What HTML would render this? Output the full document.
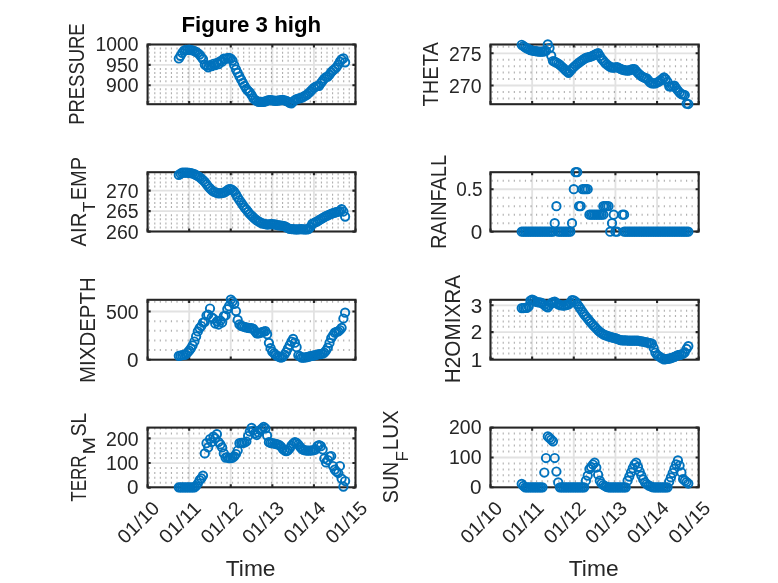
<!DOCTYPE html>
<html><head><meta charset="utf-8"><title>Figure 3 high</title>
<style>
html,body{margin:0;padding:0;background:#fff;}
svg{display:block;}
text{font-family:"Liberation Sans","DejaVu Sans",sans-serif;fill:#262626;}
.tk{font-size:19.4px;}
.lb{font-size:21.4px;}
.sb{font-size:17px;}
.tt{font-size:21.4px;font-weight:bold;fill:#000;}
</style></head><body>
<svg width="778" height="583" viewBox="0 0 778 583">
<rect width="778" height="583" fill="#fff"/>
<path d="M189.18 44.50V104.20M230.76 44.50V104.20M272.34 44.50V104.20M313.92 44.50V104.20M147.60 64.85H355.50M147.60 85.20H355.50" stroke="#262626" stroke-opacity="0.135" stroke-width="1.85" fill="none"/>
<path d="M148.65 101.48H355.50M148.65 97.41H355.50M148.65 93.34H355.50M148.65 89.27H355.50M148.65 81.13H355.50M148.65 77.06H355.50M148.65 72.99H355.50M148.65 68.92H355.50M148.65 60.78H355.50M148.65 56.71H355.50M148.65 52.64H355.50M148.65 48.57H355.50" stroke="#262626" stroke-opacity="0.36" stroke-width="2.0" stroke-dasharray="1.15 4.406" fill="none"/>
<rect x="147.60" y="44.50" width="207.90" height="59.70" fill="none" stroke="#262626" stroke-width="2.08"/>
<path d="M147.60 104.20v-3.1M147.60 44.50v3.1M189.18 104.20v-3.1M189.18 44.50v3.1M230.76 104.20v-3.1M230.76 44.50v3.1M272.34 104.20v-3.1M272.34 44.50v3.1M313.92 104.20v-3.1M313.92 44.50v3.1M355.50 104.20v-3.1M355.50 44.50v3.1M147.60 44.50h3.1M355.50 44.50h-3.1M147.60 64.85h3.1M355.50 64.85h-3.1M147.60 85.20h3.1M355.50 85.20h-3.1" stroke="#262626" stroke-width="2.08" fill="none"/>
<g fill="none" stroke="#0072bd" stroke-width="1.95"><circle cx="178.8" cy="58.5" r="4.15"/><circle cx="180.5" cy="55.8" r="4.15"/><circle cx="182.2" cy="52.9" r="4.15"/><circle cx="184.0" cy="50.6" r="4.15"/><circle cx="185.7" cy="49.9" r="4.15"/><circle cx="187.4" cy="49.8" r="4.15"/><circle cx="189.2" cy="49.7" r="4.15"/><circle cx="190.9" cy="50.0" r="4.15"/><circle cx="192.6" cy="50.3" r="4.15"/><circle cx="194.4" cy="51.0" r="4.15"/><circle cx="196.1" cy="51.9" r="4.15"/><circle cx="197.8" cy="53.0" r="4.15"/><circle cx="199.6" cy="54.6" r="4.15"/><circle cx="201.3" cy="57.0" r="4.15"/><circle cx="203.0" cy="59.2" r="4.15"/><circle cx="204.8" cy="64.6" r="4.15"/><circle cx="206.5" cy="65.6" r="4.15"/><circle cx="208.2" cy="67.3" r="4.15"/><circle cx="210.0" cy="65.0" r="4.15"/><circle cx="211.7" cy="66.2" r="4.15"/><circle cx="213.4" cy="63.8" r="4.15"/><circle cx="215.2" cy="65.1" r="4.15"/><circle cx="216.9" cy="62.9" r="4.15"/><circle cx="218.6" cy="64.2" r="4.15"/><circle cx="220.4" cy="61.2" r="4.15"/><circle cx="222.1" cy="61.7" r="4.15"/><circle cx="223.8" cy="58.7" r="4.15"/><circle cx="225.6" cy="58.8" r="4.15"/><circle cx="227.3" cy="58.1" r="4.15"/><circle cx="229.0" cy="57.9" r="4.15"/><circle cx="230.8" cy="58.7" r="4.15"/><circle cx="232.5" cy="60.6" r="4.15"/><circle cx="234.2" cy="65.1" r="4.15"/><circle cx="236.0" cy="69.4" r="4.15"/><circle cx="237.7" cy="72.8" r="4.15"/><circle cx="239.4" cy="76.3" r="4.15"/><circle cx="241.2" cy="79.7" r="4.15"/><circle cx="242.9" cy="82.8" r="4.15"/><circle cx="244.6" cy="85.8" r="4.15"/><circle cx="246.4" cy="88.9" r="4.15"/><circle cx="248.1" cy="90.9" r="4.15"/><circle cx="249.8" cy="92.4" r="4.15"/><circle cx="251.6" cy="95.2" r="4.15"/><circle cx="253.3" cy="98.1" r="4.15"/><circle cx="255.0" cy="100.0" r="4.15"/><circle cx="256.7" cy="100.9" r="4.15"/><circle cx="258.5" cy="101.8" r="4.15"/><circle cx="260.2" cy="101.8" r="4.15"/><circle cx="261.9" cy="101.8" r="4.15"/><circle cx="263.7" cy="101.8" r="4.15"/><circle cx="265.4" cy="101.3" r="4.15"/><circle cx="267.1" cy="100.7" r="4.15"/><circle cx="268.9" cy="100.1" r="4.15"/><circle cx="270.6" cy="100.0" r="4.15"/><circle cx="272.3" cy="100.3" r="4.15"/><circle cx="274.1" cy="100.7" r="4.15"/><circle cx="275.8" cy="100.9" r="4.15"/><circle cx="277.5" cy="100.7" r="4.15"/><circle cx="279.3" cy="100.4" r="4.15"/><circle cx="281.0" cy="100.1" r="4.15"/><circle cx="282.7" cy="99.9" r="4.15"/><circle cx="284.5" cy="100.3" r="4.15"/><circle cx="286.2" cy="100.8" r="4.15"/><circle cx="287.9" cy="101.7" r="4.15"/><circle cx="289.7" cy="102.8" r="4.15"/><circle cx="291.4" cy="103.3" r="4.15"/><circle cx="293.1" cy="101.7" r="4.15"/><circle cx="294.9" cy="100.0" r="4.15"/><circle cx="296.6" cy="99.2" r="4.15"/><circle cx="298.3" cy="98.7" r="4.15"/><circle cx="300.1" cy="98.2" r="4.15"/><circle cx="301.8" cy="97.7" r="4.15"/><circle cx="303.5" cy="96.7" r="4.15"/><circle cx="305.3" cy="95.7" r="4.15"/><circle cx="307.0" cy="94.6" r="4.15"/><circle cx="308.7" cy="93.2" r="4.15"/><circle cx="310.5" cy="91.4" r="4.15"/><circle cx="312.2" cy="89.5" r="4.15"/><circle cx="313.9" cy="87.8" r="4.15"/><circle cx="315.7" cy="86.5" r="4.15"/><circle cx="317.4" cy="86.0" r="4.15"/><circle cx="319.1" cy="85.8" r="4.15"/><circle cx="320.9" cy="83.2" r="4.15"/><circle cx="322.6" cy="80.8" r="4.15"/><circle cx="324.3" cy="78.7" r="4.15"/><circle cx="326.0" cy="77.0" r="4.15"/><circle cx="327.8" cy="76.6" r="4.15"/><circle cx="329.5" cy="74.7" r="4.15"/><circle cx="331.2" cy="72.2" r="4.15"/><circle cx="333.0" cy="70.4" r="4.15"/><circle cx="334.7" cy="69.0" r="4.15"/><circle cx="336.4" cy="67.3" r="4.15"/><circle cx="338.2" cy="64.7" r="4.15"/><circle cx="339.9" cy="61.7" r="4.15"/><circle cx="341.6" cy="59.4" r="4.15"/><circle cx="343.4" cy="58.3" r="4.15"/><circle cx="345.1" cy="62.3" r="4.15"/></g>
<text x="138.60" y="51" text-anchor="end" class="tk" textLength="43.0" lengthAdjust="spacingAndGlyphs">1000</text>
<text x="138.60" y="72" text-anchor="end" class="tk" textLength="32.5" lengthAdjust="spacingAndGlyphs">950</text>
<text x="138.60" y="92" text-anchor="end" class="tk" textLength="32.5" lengthAdjust="spacingAndGlyphs">900</text>
<text transform="translate(84.40 74.10) rotate(-90)" text-anchor="middle" class="lb" textLength="101.5" lengthAdjust="spacingAndGlyphs">PRESSURE</text>
<text x="251.3" y="31.7" text-anchor="middle" class="tt" textLength="139.8" lengthAdjust="spacingAndGlyphs">Figure 3 high</text>
<path d="M532.14 44.50V104.20M573.78 44.50V104.20M615.42 44.50V104.20M657.06 44.50V104.20M490.50 53.30H698.70M490.50 85.50H698.70" stroke="#262626" stroke-opacity="0.135" stroke-width="1.85" fill="none"/>
<path d="M491.55 98.38H698.70M491.55 91.94H698.70M491.55 79.06H698.70M491.55 72.62H698.70M491.55 66.18H698.70M491.55 59.74H698.70M491.55 46.86H698.70" stroke="#262626" stroke-opacity="0.36" stroke-width="2.0" stroke-dasharray="1.15 4.406" fill="none"/>
<rect x="490.50" y="44.50" width="208.20" height="59.70" fill="none" stroke="#262626" stroke-width="2.08"/>
<path d="M490.50 104.20v-3.1M490.50 44.50v3.1M532.14 104.20v-3.1M532.14 44.50v3.1M573.78 104.20v-3.1M573.78 44.50v3.1M615.42 104.20v-3.1M615.42 44.50v3.1M657.06 104.20v-3.1M657.06 44.50v3.1M698.70 104.20v-3.1M698.70 44.50v3.1M490.50 53.30h3.1M698.70 53.30h-3.1M490.50 85.50h3.1M698.70 85.50h-3.1" stroke="#262626" stroke-width="2.08" fill="none"/>
<g fill="none" stroke="#0072bd" stroke-width="1.95"><circle cx="521.7" cy="44.8" r="4.15"/><circle cx="523.5" cy="46.1" r="4.15"/><circle cx="525.2" cy="47.3" r="4.15"/><circle cx="526.9" cy="48.4" r="4.15"/><circle cx="528.7" cy="49.2" r="4.15"/><circle cx="530.4" cy="50.1" r="4.15"/><circle cx="532.1" cy="50.5" r="4.15"/><circle cx="533.9" cy="50.8" r="4.15"/><circle cx="535.6" cy="51.2" r="4.15"/><circle cx="537.3" cy="51.4" r="4.15"/><circle cx="539.1" cy="51.6" r="4.15"/><circle cx="540.8" cy="51.7" r="4.15"/><circle cx="542.5" cy="51.6" r="4.15"/><circle cx="544.3" cy="51.3" r="4.15"/><circle cx="546.0" cy="50.8" r="4.15"/><circle cx="547.8" cy="44.4" r="4.15"/><circle cx="549.5" cy="48.0" r="4.15"/><circle cx="551.2" cy="55.6" r="4.15"/><circle cx="553.0" cy="61.0" r="4.15"/><circle cx="554.7" cy="61.7" r="4.15"/><circle cx="556.4" cy="62.6" r="4.15"/><circle cx="558.2" cy="63.7" r="4.15"/><circle cx="559.9" cy="64.9" r="4.15"/><circle cx="561.6" cy="66.5" r="4.15"/><circle cx="563.4" cy="68.2" r="4.15"/><circle cx="565.1" cy="69.8" r="4.15"/><circle cx="566.8" cy="71.3" r="4.15"/><circle cx="568.6" cy="72.8" r="4.15"/><circle cx="570.3" cy="70.8" r="4.15"/><circle cx="572.0" cy="68.8" r="4.15"/><circle cx="573.8" cy="67.0" r="4.15"/><circle cx="575.5" cy="65.5" r="4.15"/><circle cx="577.2" cy="64.0" r="4.15"/><circle cx="579.0" cy="62.6" r="4.15"/><circle cx="580.7" cy="61.3" r="4.15"/><circle cx="582.5" cy="60.1" r="4.15"/><circle cx="584.2" cy="58.9" r="4.15"/><circle cx="585.9" cy="57.8" r="4.15"/><circle cx="587.7" cy="57.4" r="4.15"/><circle cx="589.4" cy="57.0" r="4.15"/><circle cx="591.1" cy="56.5" r="4.15"/><circle cx="592.9" cy="55.7" r="4.15"/><circle cx="594.6" cy="54.8" r="4.15"/><circle cx="596.3" cy="53.9" r="4.15"/><circle cx="598.1" cy="53.1" r="4.15"/><circle cx="599.8" cy="55.9" r="4.15"/><circle cx="601.5" cy="58.6" r="4.15"/><circle cx="603.3" cy="60.7" r="4.15"/><circle cx="605.0" cy="62.8" r="4.15"/><circle cx="606.7" cy="64.4" r="4.15"/><circle cx="608.5" cy="65.6" r="4.15"/><circle cx="610.2" cy="66.9" r="4.15"/><circle cx="612.0" cy="67.7" r="4.15"/><circle cx="613.7" cy="67.5" r="4.15"/><circle cx="615.4" cy="67.3" r="4.15"/><circle cx="617.2" cy="67.2" r="4.15"/><circle cx="618.9" cy="68.0" r="4.15"/><circle cx="620.6" cy="68.9" r="4.15"/><circle cx="622.4" cy="69.7" r="4.15"/><circle cx="624.1" cy="70.1" r="4.15"/><circle cx="625.8" cy="70.3" r="4.15"/><circle cx="627.6" cy="70.6" r="4.15"/><circle cx="629.3" cy="70.3" r="4.15"/><circle cx="631.0" cy="69.7" r="4.15"/><circle cx="632.8" cy="69.0" r="4.15"/><circle cx="634.5" cy="69.1" r="4.15"/><circle cx="636.2" cy="71.1" r="4.15"/><circle cx="638.0" cy="73.1" r="4.15"/><circle cx="639.7" cy="74.7" r="4.15"/><circle cx="641.4" cy="76.1" r="4.15"/><circle cx="643.2" cy="77.2" r="4.15"/><circle cx="644.9" cy="77.8" r="4.15"/><circle cx="646.7" cy="78.4" r="4.15"/><circle cx="648.4" cy="80.4" r="4.15"/><circle cx="650.1" cy="82.4" r="4.15"/><circle cx="651.9" cy="83.4" r="4.15"/><circle cx="653.6" cy="83.4" r="4.15"/><circle cx="655.3" cy="83.3" r="4.15"/><circle cx="657.1" cy="82.5" r="4.15"/><circle cx="658.8" cy="81.6" r="4.15"/><circle cx="660.5" cy="80.4" r="4.15"/><circle cx="662.3" cy="78.9" r="4.15"/><circle cx="664.0" cy="77.4" r="4.15"/><circle cx="665.7" cy="79.1" r="4.15"/><circle cx="667.5" cy="81.9" r="4.15"/><circle cx="669.2" cy="86.3" r="4.15"/><circle cx="670.9" cy="86.5" r="4.15"/><circle cx="672.7" cy="86.0" r="4.15"/><circle cx="674.4" cy="85.7" r="4.15"/><circle cx="676.1" cy="88.1" r="4.15"/><circle cx="677.9" cy="90.5" r="4.15"/><circle cx="679.6" cy="92.6" r="4.15"/><circle cx="681.4" cy="94.1" r="4.15"/><circle cx="683.1" cy="94.5" r="4.15"/><circle cx="684.8" cy="95.0" r="4.15"/><circle cx="686.6" cy="103.6" r="4.15"/><circle cx="688.3" cy="104.0" r="4.15"/></g>
<text x="481.50" y="61" text-anchor="end" class="tk" textLength="32.5" lengthAdjust="spacingAndGlyphs">275</text>
<text x="481.50" y="93" text-anchor="end" class="tk" textLength="32.5" lengthAdjust="spacingAndGlyphs">270</text>
<text transform="translate(438.10 74.30) rotate(-90)" text-anchor="middle" class="lb" textLength="64.3" lengthAdjust="spacingAndGlyphs">THETA</text>
<path d="M189.18 172.20V231.50M230.76 172.20V231.50M272.34 172.20V231.50M313.92 172.20V231.50M147.60 190.60H355.50M147.60 211.10H355.50" stroke="#262626" stroke-opacity="0.135" stroke-width="1.85" fill="none"/>
<path d="M148.65 227.50H355.50M148.65 223.40H355.50M148.65 219.30H355.50M148.65 215.20H355.50M148.65 207.00H355.50M148.65 202.90H355.50M148.65 198.80H355.50M148.65 194.70H355.50M148.65 186.50H355.50M148.65 182.40H355.50M148.65 178.30H355.50M148.65 174.20H355.50" stroke="#262626" stroke-opacity="0.36" stroke-width="2.0" stroke-dasharray="1.15 4.406" fill="none"/>
<rect x="147.60" y="172.20" width="207.90" height="59.30" fill="none" stroke="#262626" stroke-width="2.08"/>
<path d="M147.60 231.50v-3.1M147.60 172.20v3.1M189.18 231.50v-3.1M189.18 172.20v3.1M230.76 231.50v-3.1M230.76 172.20v3.1M272.34 231.50v-3.1M272.34 172.20v3.1M313.92 231.50v-3.1M313.92 172.20v3.1M355.50 231.50v-3.1M355.50 172.20v3.1M147.60 190.60h3.1M355.50 190.60h-3.1M147.60 211.10h3.1M355.50 211.10h-3.1M147.60 231.60h3.1M355.50 231.60h-3.1" stroke="#262626" stroke-width="2.08" fill="none"/>
<g fill="none" stroke="#0072bd" stroke-width="1.95"><circle cx="178.8" cy="174.9" r="4.15"/><circle cx="180.5" cy="173.6" r="4.15"/><circle cx="182.2" cy="172.6" r="4.15"/><circle cx="184.0" cy="172.6" r="4.15"/><circle cx="185.7" cy="172.6" r="4.15"/><circle cx="187.4" cy="172.6" r="4.15"/><circle cx="189.2" cy="172.9" r="4.15"/><circle cx="190.9" cy="173.2" r="4.15"/><circle cx="192.6" cy="173.5" r="4.15"/><circle cx="194.4" cy="174.2" r="4.15"/><circle cx="196.1" cy="175.1" r="4.15"/><circle cx="197.8" cy="176.0" r="4.15"/><circle cx="199.6" cy="177.2" r="4.15"/><circle cx="201.3" cy="178.7" r="4.15"/><circle cx="203.0" cy="180.2" r="4.15"/><circle cx="204.8" cy="181.9" r="4.15"/><circle cx="206.5" cy="184.2" r="4.15"/><circle cx="208.2" cy="186.5" r="4.15"/><circle cx="210.0" cy="188.4" r="4.15"/><circle cx="211.7" cy="190.1" r="4.15"/><circle cx="213.4" cy="191.5" r="4.15"/><circle cx="215.2" cy="192.2" r="4.15"/><circle cx="216.9" cy="192.8" r="4.15"/><circle cx="218.6" cy="193.4" r="4.15"/><circle cx="220.4" cy="193.2" r="4.15"/><circle cx="222.1" cy="193.0" r="4.15"/><circle cx="223.8" cy="192.7" r="4.15"/><circle cx="225.6" cy="191.7" r="4.15"/><circle cx="227.3" cy="190.4" r="4.15"/><circle cx="229.0" cy="189.1" r="4.15"/><circle cx="230.8" cy="189.1" r="4.15"/><circle cx="232.5" cy="190.2" r="4.15"/><circle cx="234.2" cy="191.5" r="4.15"/><circle cx="236.0" cy="194.4" r="4.15"/><circle cx="237.7" cy="197.4" r="4.15"/><circle cx="239.4" cy="200.1" r="4.15"/><circle cx="241.2" cy="202.6" r="4.15"/><circle cx="242.9" cy="205.2" r="4.15"/><circle cx="244.6" cy="207.6" r="4.15"/><circle cx="246.4" cy="209.7" r="4.15"/><circle cx="248.1" cy="211.9" r="4.15"/><circle cx="249.8" cy="214.0" r="4.15"/><circle cx="251.6" cy="215.7" r="4.15"/><circle cx="253.3" cy="217.3" r="4.15"/><circle cx="255.0" cy="218.9" r="4.15"/><circle cx="256.7" cy="220.3" r="4.15"/><circle cx="258.5" cy="221.3" r="4.15"/><circle cx="260.2" cy="222.4" r="4.15"/><circle cx="261.9" cy="223.3" r="4.15"/><circle cx="263.7" cy="223.7" r="4.15"/><circle cx="265.4" cy="224.1" r="4.15"/><circle cx="267.1" cy="224.5" r="4.15"/><circle cx="268.9" cy="224.4" r="4.15"/><circle cx="270.6" cy="224.2" r="4.15"/><circle cx="272.3" cy="224.1" r="4.15"/><circle cx="274.1" cy="224.4" r="4.15"/><circle cx="275.8" cy="224.7" r="4.15"/><circle cx="277.5" cy="225.1" r="4.15"/><circle cx="279.3" cy="225.3" r="4.15"/><circle cx="281.0" cy="225.5" r="4.15"/><circle cx="282.7" cy="225.8" r="4.15"/><circle cx="284.5" cy="226.2" r="4.15"/><circle cx="286.2" cy="227.1" r="4.15"/><circle cx="287.9" cy="228.0" r="4.15"/><circle cx="289.7" cy="228.8" r="4.15"/><circle cx="291.4" cy="229.0" r="4.15"/><circle cx="293.1" cy="229.2" r="4.15"/><circle cx="294.9" cy="229.4" r="4.15"/><circle cx="296.6" cy="229.4" r="4.15"/><circle cx="298.3" cy="229.3" r="4.15"/><circle cx="300.1" cy="229.2" r="4.15"/><circle cx="301.8" cy="229.2" r="4.15"/><circle cx="303.5" cy="229.3" r="4.15"/><circle cx="305.3" cy="229.4" r="4.15"/><circle cx="307.0" cy="229.4" r="4.15"/><circle cx="308.7" cy="229.0" r="4.15"/><circle cx="310.5" cy="226.9" r="4.15"/><circle cx="312.2" cy="223.8" r="4.15"/><circle cx="313.9" cy="223.0" r="4.15"/><circle cx="315.7" cy="222.1" r="4.15"/><circle cx="317.4" cy="221.3" r="4.15"/><circle cx="319.1" cy="220.2" r="4.15"/><circle cx="320.9" cy="219.2" r="4.15"/><circle cx="322.6" cy="218.1" r="4.15"/><circle cx="324.3" cy="217.1" r="4.15"/><circle cx="326.0" cy="216.2" r="4.15"/><circle cx="327.8" cy="215.3" r="4.15"/><circle cx="329.5" cy="214.5" r="4.15"/><circle cx="331.2" cy="213.8" r="4.15"/><circle cx="333.0" cy="213.2" r="4.15"/><circle cx="334.7" cy="212.6" r="4.15"/><circle cx="336.4" cy="212.1" r="4.15"/><circle cx="338.2" cy="211.7" r="4.15"/><circle cx="339.9" cy="211.2" r="4.15"/><circle cx="341.6" cy="209.1" r="4.15"/><circle cx="343.4" cy="211.5" r="4.15"/><circle cx="345.1" cy="216.6" r="4.15"/></g>
<text x="138.60" y="198" text-anchor="end" class="tk" textLength="32.5" lengthAdjust="spacingAndGlyphs">270</text>
<text x="138.60" y="218" text-anchor="end" class="tk" textLength="32.5" lengthAdjust="spacingAndGlyphs">265</text>
<text x="138.60" y="239" text-anchor="end" class="tk" textLength="32.5" lengthAdjust="spacingAndGlyphs">260</text>
<text transform="translate(86.00 246.50) rotate(-90)" class="lb" textLength="33.8" lengthAdjust="spacingAndGlyphs">AIR</text>
<text transform="translate(95.40 212.00) rotate(-90)" class="sb" textLength="10.3" lengthAdjust="spacingAndGlyphs">T</text>
<text transform="translate(86.00 200.30) rotate(-90)" class="lb" textLength="43.5" lengthAdjust="spacingAndGlyphs">EMP</text>
<path d="M532.14 172.20V231.50M573.78 172.20V231.50M615.42 172.20V231.50M657.06 172.20V231.50M490.50 189.20H698.70" stroke="#262626" stroke-opacity="0.135" stroke-width="1.85" fill="none"/>
<path d="M491.55 223.20H698.70M491.55 214.70H698.70M491.55 206.20H698.70M491.55 197.70H698.70M491.55 180.70H698.70" stroke="#262626" stroke-opacity="0.36" stroke-width="2.0" stroke-dasharray="1.15 4.406" fill="none"/>
<rect x="490.50" y="172.20" width="208.20" height="59.30" fill="none" stroke="#262626" stroke-width="2.08"/>
<path d="M490.50 231.50v-3.1M490.50 172.20v3.1M532.14 231.50v-3.1M532.14 172.20v3.1M573.78 231.50v-3.1M573.78 172.20v3.1M615.42 231.50v-3.1M615.42 172.20v3.1M657.06 231.50v-3.1M657.06 172.20v3.1M698.70 231.50v-3.1M698.70 172.20v3.1M490.50 189.20h3.1M698.70 189.20h-3.1M490.50 231.70h3.1M698.70 231.70h-3.1" stroke="#262626" stroke-width="2.08" fill="none"/>
<g fill="none" stroke="#0072bd" stroke-width="1.95"><circle cx="521.7" cy="231.7" r="4.15"/><circle cx="523.5" cy="231.7" r="4.15"/><circle cx="525.2" cy="231.7" r="4.15"/><circle cx="526.9" cy="231.7" r="4.15"/><circle cx="528.7" cy="231.7" r="4.15"/><circle cx="530.4" cy="231.7" r="4.15"/><circle cx="532.1" cy="231.7" r="4.15"/><circle cx="533.9" cy="231.7" r="4.15"/><circle cx="535.6" cy="231.7" r="4.15"/><circle cx="537.3" cy="231.7" r="4.15"/><circle cx="539.1" cy="231.7" r="4.15"/><circle cx="540.8" cy="231.7" r="4.15"/><circle cx="542.5" cy="231.7" r="4.15"/><circle cx="544.3" cy="231.7" r="4.15"/><circle cx="546.0" cy="231.7" r="4.15"/><circle cx="547.8" cy="231.7" r="4.15"/><circle cx="549.5" cy="231.7" r="4.15"/><circle cx="551.2" cy="231.7" r="4.15"/><circle cx="553.0" cy="231.7" r="4.15"/><circle cx="554.7" cy="223.2" r="4.15"/><circle cx="556.4" cy="206.2" r="4.15"/><circle cx="558.2" cy="231.7" r="4.15"/><circle cx="559.9" cy="231.7" r="4.15"/><circle cx="561.6" cy="231.7" r="4.15"/><circle cx="563.4" cy="231.7" r="4.15"/><circle cx="565.1" cy="231.7" r="4.15"/><circle cx="566.8" cy="231.7" r="4.15"/><circle cx="568.6" cy="231.7" r="4.15"/><circle cx="570.3" cy="231.7" r="4.15"/><circle cx="572.0" cy="223.2" r="4.15"/><circle cx="573.8" cy="189.2" r="4.15"/><circle cx="575.5" cy="172.2" r="4.15"/><circle cx="577.2" cy="172.2" r="4.15"/><circle cx="579.0" cy="206.2" r="4.15"/><circle cx="580.7" cy="206.2" r="4.15"/><circle cx="582.5" cy="189.2" r="4.15"/><circle cx="584.2" cy="189.2" r="4.15"/><circle cx="585.9" cy="189.2" r="4.15"/><circle cx="587.7" cy="189.2" r="4.15"/><circle cx="589.4" cy="214.7" r="4.15"/><circle cx="591.1" cy="214.7" r="4.15"/><circle cx="592.9" cy="214.7" r="4.15"/><circle cx="594.6" cy="214.7" r="4.15"/><circle cx="596.3" cy="214.7" r="4.15"/><circle cx="598.1" cy="214.7" r="4.15"/><circle cx="599.8" cy="214.7" r="4.15"/><circle cx="601.5" cy="214.7" r="4.15"/><circle cx="603.3" cy="214.7" r="4.15"/><circle cx="605.0" cy="206.2" r="4.15"/><circle cx="606.7" cy="206.2" r="4.15"/><circle cx="608.5" cy="206.2" r="4.15"/><circle cx="610.2" cy="231.7" r="4.15"/><circle cx="612.0" cy="223.2" r="4.15"/><circle cx="613.7" cy="214.7" r="4.15"/><circle cx="615.4" cy="231.7" r="4.15"/><circle cx="617.2" cy="231.7" r="4.15"/><circle cx="622.4" cy="214.7" r="4.15"/><circle cx="624.1" cy="214.7" r="4.15"/><circle cx="625.8" cy="231.7" r="4.15"/><circle cx="627.6" cy="231.7" r="4.15"/><circle cx="629.3" cy="231.7" r="4.15"/><circle cx="631.0" cy="231.7" r="4.15"/><circle cx="632.8" cy="231.7" r="4.15"/><circle cx="634.5" cy="231.7" r="4.15"/><circle cx="636.2" cy="231.7" r="4.15"/><circle cx="638.0" cy="231.7" r="4.15"/><circle cx="639.7" cy="231.7" r="4.15"/><circle cx="641.4" cy="231.7" r="4.15"/><circle cx="643.2" cy="231.7" r="4.15"/><circle cx="644.9" cy="231.7" r="4.15"/><circle cx="646.7" cy="231.7" r="4.15"/><circle cx="648.4" cy="231.7" r="4.15"/><circle cx="650.1" cy="231.7" r="4.15"/><circle cx="651.9" cy="231.7" r="4.15"/><circle cx="653.6" cy="231.7" r="4.15"/><circle cx="655.3" cy="231.7" r="4.15"/><circle cx="657.1" cy="231.7" r="4.15"/><circle cx="658.8" cy="231.7" r="4.15"/><circle cx="660.5" cy="231.7" r="4.15"/><circle cx="662.3" cy="231.7" r="4.15"/><circle cx="664.0" cy="231.7" r="4.15"/><circle cx="665.7" cy="231.7" r="4.15"/><circle cx="667.5" cy="231.7" r="4.15"/><circle cx="669.2" cy="231.7" r="4.15"/><circle cx="670.9" cy="231.7" r="4.15"/><circle cx="672.7" cy="231.7" r="4.15"/><circle cx="674.4" cy="231.7" r="4.15"/><circle cx="676.1" cy="231.7" r="4.15"/><circle cx="677.9" cy="231.7" r="4.15"/><circle cx="679.6" cy="231.7" r="4.15"/><circle cx="681.4" cy="231.7" r="4.15"/><circle cx="683.1" cy="231.7" r="4.15"/><circle cx="684.8" cy="231.7" r="4.15"/><circle cx="686.6" cy="231.7" r="4.15"/><circle cx="688.3" cy="231.7" r="4.15"/><circle cx="603.3" cy="206.2" r="4.15"/><circle cx="624.1" cy="231.7" r="4.15"/></g>
<text x="482.50" y="196" text-anchor="end" class="tk" textLength="26.3" lengthAdjust="spacingAndGlyphs">0.5</text>
<text x="482.30" y="239" text-anchor="end" class="tk" textLength="11.5" lengthAdjust="spacingAndGlyphs">0</text>
<text transform="translate(445.60 202.00) rotate(-90)" text-anchor="middle" class="lb" textLength="94.0" lengthAdjust="spacingAndGlyphs">RAINFALL</text>
<path d="M189.18 299.80V359.70M230.76 299.80V359.70M272.34 299.80V359.70M313.92 299.80V359.70M147.60 311.50H355.50" stroke="#262626" stroke-opacity="0.135" stroke-width="1.85" fill="none"/>
<path d="M148.65 350.06H355.50M148.65 340.42H355.50M148.65 330.78H355.50M148.65 321.14H355.50M148.65 301.86H355.50" stroke="#262626" stroke-opacity="0.36" stroke-width="2.0" stroke-dasharray="1.15 4.406" fill="none"/>
<rect x="147.60" y="299.80" width="207.90" height="59.90" fill="none" stroke="#262626" stroke-width="2.08"/>
<path d="M147.60 359.70v-3.1M147.60 299.80v3.1M189.18 359.70v-3.1M189.18 299.80v3.1M230.76 359.70v-3.1M230.76 299.80v3.1M272.34 359.70v-3.1M272.34 299.80v3.1M313.92 359.70v-3.1M313.92 299.80v3.1M355.50 359.70v-3.1M355.50 299.80v3.1M147.60 311.50h3.1M355.50 311.50h-3.1M147.60 359.70h3.1M355.50 359.70h-3.1" stroke="#262626" stroke-width="2.08" fill="none"/>
<g fill="none" stroke="#0072bd" stroke-width="1.95"><circle cx="178.8" cy="355.8" r="4.15"/><circle cx="180.5" cy="355.5" r="4.15"/><circle cx="182.2" cy="355.1" r="4.15"/><circle cx="184.0" cy="354.8" r="4.15"/><circle cx="185.7" cy="354.5" r="4.15"/><circle cx="187.4" cy="352.7" r="4.15"/><circle cx="189.2" cy="350.7" r="4.15"/><circle cx="190.9" cy="348.3" r="4.15"/><circle cx="192.6" cy="345.3" r="4.15"/><circle cx="194.4" cy="341.5" r="4.15"/><circle cx="196.1" cy="336.4" r="4.15"/><circle cx="197.8" cy="331.4" r="4.15"/><circle cx="199.6" cy="328.1" r="4.15"/><circle cx="201.3" cy="326.0" r="4.15"/><circle cx="203.0" cy="322.5" r="4.15"/><circle cx="204.8" cy="321.8" r="4.15"/><circle cx="206.5" cy="315.5" r="4.15"/><circle cx="208.2" cy="314.7" r="4.15"/><circle cx="210.0" cy="308.5" r="4.15"/><circle cx="211.7" cy="317.4" r="4.15"/><circle cx="213.4" cy="318.5" r="4.15"/><circle cx="215.2" cy="323.5" r="4.15"/><circle cx="216.9" cy="321.3" r="4.15"/><circle cx="218.6" cy="324.5" r="4.15"/><circle cx="220.4" cy="320.7" r="4.15"/><circle cx="222.1" cy="322.5" r="4.15"/><circle cx="223.8" cy="316.2" r="4.15"/><circle cx="225.6" cy="315.5" r="4.15"/><circle cx="227.3" cy="309.1" r="4.15"/><circle cx="229.0" cy="306.2" r="4.15"/><circle cx="230.8" cy="299.6" r="4.15"/><circle cx="232.5" cy="301.6" r="4.15"/><circle cx="234.2" cy="303.8" r="4.15"/><circle cx="236.0" cy="311.1" r="4.15"/><circle cx="237.7" cy="319.9" r="4.15"/><circle cx="239.4" cy="324.4" r="4.15"/><circle cx="241.2" cy="325.9" r="4.15"/><circle cx="242.9" cy="326.4" r="4.15"/><circle cx="244.6" cy="327.0" r="4.15"/><circle cx="246.4" cy="327.4" r="4.15"/><circle cx="248.1" cy="327.8" r="4.15"/><circle cx="249.8" cy="328.2" r="4.15"/><circle cx="251.6" cy="328.2" r="4.15"/><circle cx="253.3" cy="328.8" r="4.15"/><circle cx="255.0" cy="331.1" r="4.15"/><circle cx="256.7" cy="333.3" r="4.15"/><circle cx="258.5" cy="333.3" r="4.15"/><circle cx="260.2" cy="332.8" r="4.15"/><circle cx="261.9" cy="332.2" r="4.15"/><circle cx="263.7" cy="331.6" r="4.15"/><circle cx="265.4" cy="331.1" r="4.15"/><circle cx="267.1" cy="334.2" r="4.15"/><circle cx="268.9" cy="342.8" r="4.15"/><circle cx="270.6" cy="348.2" r="4.15"/><circle cx="272.3" cy="351.7" r="4.15"/><circle cx="274.1" cy="353.4" r="4.15"/><circle cx="275.8" cy="354.9" r="4.15"/><circle cx="277.5" cy="356.1" r="4.15"/><circle cx="279.3" cy="356.8" r="4.15"/><circle cx="281.0" cy="357.6" r="4.15"/><circle cx="282.7" cy="356.8" r="4.15"/><circle cx="284.5" cy="354.7" r="4.15"/><circle cx="286.2" cy="352.0" r="4.15"/><circle cx="287.9" cy="348.5" r="4.15"/><circle cx="289.7" cy="345.0" r="4.15"/><circle cx="291.4" cy="341.6" r="4.15"/><circle cx="293.1" cy="338.9" r="4.15"/><circle cx="294.9" cy="342.7" r="4.15"/><circle cx="296.6" cy="347.2" r="4.15"/><circle cx="298.3" cy="355.3" r="4.15"/><circle cx="300.1" cy="356.4" r="4.15"/><circle cx="301.8" cy="357.6" r="4.15"/><circle cx="303.5" cy="357.7" r="4.15"/><circle cx="305.3" cy="357.4" r="4.15"/><circle cx="307.0" cy="357.1" r="4.15"/><circle cx="308.7" cy="356.7" r="4.15"/><circle cx="310.5" cy="356.2" r="4.15"/><circle cx="312.2" cy="355.8" r="4.15"/><circle cx="313.9" cy="355.4" r="4.15"/><circle cx="315.7" cy="355.0" r="4.15"/><circle cx="317.4" cy="354.5" r="4.15"/><circle cx="319.1" cy="354.2" r="4.15"/><circle cx="320.9" cy="354.0" r="4.15"/><circle cx="322.6" cy="353.7" r="4.15"/><circle cx="324.3" cy="352.6" r="4.15"/><circle cx="326.0" cy="350.6" r="4.15"/><circle cx="327.8" cy="347.6" r="4.15"/><circle cx="329.5" cy="342.9" r="4.15"/><circle cx="331.2" cy="338.2" r="4.15"/><circle cx="333.0" cy="335.4" r="4.15"/><circle cx="334.7" cy="332.7" r="4.15"/><circle cx="336.4" cy="331.9" r="4.15"/><circle cx="338.2" cy="331.3" r="4.15"/><circle cx="339.9" cy="330.0" r="4.15"/><circle cx="341.6" cy="327.8" r="4.15"/><circle cx="343.4" cy="318.5" r="4.15"/><circle cx="345.1" cy="312.6" r="4.15"/></g>
<text x="138.60" y="319" text-anchor="end" class="tk" textLength="32.5" lengthAdjust="spacingAndGlyphs">500</text>
<text x="138.60" y="367" text-anchor="end" class="tk" textLength="11.5" lengthAdjust="spacingAndGlyphs">0</text>
<text transform="translate(95.10 330.10) rotate(-90)" text-anchor="middle" class="lb" textLength="105.8" lengthAdjust="spacingAndGlyphs">MIXDEPTH</text>
<path d="M532.14 299.80V359.70M573.78 299.80V359.70M615.42 299.80V359.70M657.06 299.80V359.70M490.50 305.30H698.70M490.50 332.10H698.70" stroke="#262626" stroke-opacity="0.135" stroke-width="1.85" fill="none"/>
<path d="M491.55 353.54H698.70M491.55 348.18H698.70M491.55 342.82H698.70M491.55 337.46H698.70M491.55 326.74H698.70M491.55 321.38H698.70M491.55 316.02H698.70M491.55 310.66H698.70" stroke="#262626" stroke-opacity="0.36" stroke-width="2.0" stroke-dasharray="1.15 4.406" fill="none"/>
<rect x="490.50" y="299.80" width="208.20" height="59.90" fill="none" stroke="#262626" stroke-width="2.08"/>
<path d="M490.50 359.70v-3.1M490.50 299.80v3.1M532.14 359.70v-3.1M532.14 299.80v3.1M573.78 359.70v-3.1M573.78 299.80v3.1M615.42 359.70v-3.1M615.42 299.80v3.1M657.06 359.70v-3.1M657.06 299.80v3.1M698.70 359.70v-3.1M698.70 299.80v3.1M490.50 305.30h3.1M698.70 305.30h-3.1M490.50 332.10h3.1M698.70 332.10h-3.1M490.50 358.90h3.1M698.70 358.90h-3.1" stroke="#262626" stroke-width="2.08" fill="none"/>
<g fill="none" stroke="#0072bd" stroke-width="1.95"><circle cx="521.7" cy="308.1" r="4.15"/><circle cx="523.5" cy="308.0" r="4.15"/><circle cx="525.2" cy="307.9" r="4.15"/><circle cx="526.9" cy="307.8" r="4.15"/><circle cx="528.7" cy="306.4" r="4.15"/><circle cx="530.4" cy="300.6" r="4.15"/><circle cx="532.1" cy="299.7" r="4.15"/><circle cx="533.9" cy="300.3" r="4.15"/><circle cx="535.6" cy="301.6" r="4.15"/><circle cx="537.3" cy="302.2" r="4.15"/><circle cx="539.1" cy="302.4" r="4.15"/><circle cx="540.8" cy="302.6" r="4.15"/><circle cx="542.5" cy="303.4" r="4.15"/><circle cx="544.3" cy="305.0" r="4.15"/><circle cx="546.0" cy="306.5" r="4.15"/><circle cx="547.8" cy="307.3" r="4.15"/><circle cx="549.5" cy="305.2" r="4.15"/><circle cx="551.2" cy="303.1" r="4.15"/><circle cx="553.0" cy="302.0" r="4.15"/><circle cx="554.7" cy="301.5" r="4.15"/><circle cx="556.4" cy="303.0" r="4.15"/><circle cx="558.2" cy="304.4" r="4.15"/><circle cx="559.9" cy="305.0" r="4.15"/><circle cx="561.6" cy="305.3" r="4.15"/><circle cx="563.4" cy="305.5" r="4.15"/><circle cx="565.1" cy="305.4" r="4.15"/><circle cx="566.8" cy="304.9" r="4.15"/><circle cx="568.6" cy="304.3" r="4.15"/><circle cx="570.3" cy="302.7" r="4.15"/><circle cx="572.0" cy="300.2" r="4.15"/><circle cx="573.8" cy="300.3" r="4.15"/><circle cx="575.5" cy="301.5" r="4.15"/><circle cx="577.2" cy="304.1" r="4.15"/><circle cx="579.0" cy="306.6" r="4.15"/><circle cx="580.7" cy="309.2" r="4.15"/><circle cx="582.5" cy="311.8" r="4.15"/><circle cx="584.2" cy="314.4" r="4.15"/><circle cx="585.9" cy="316.5" r="4.15"/><circle cx="587.7" cy="318.7" r="4.15"/><circle cx="589.4" cy="320.8" r="4.15"/><circle cx="591.1" cy="322.8" r="4.15"/><circle cx="592.9" cy="324.8" r="4.15"/><circle cx="594.6" cy="326.7" r="4.15"/><circle cx="596.3" cy="328.5" r="4.15"/><circle cx="598.1" cy="330.3" r="4.15"/><circle cx="599.8" cy="331.9" r="4.15"/><circle cx="601.5" cy="333.1" r="4.15"/><circle cx="603.3" cy="334.3" r="4.15"/><circle cx="605.0" cy="335.1" r="4.15"/><circle cx="606.7" cy="335.7" r="4.15"/><circle cx="608.5" cy="336.4" r="4.15"/><circle cx="610.2" cy="336.9" r="4.15"/><circle cx="612.0" cy="337.3" r="4.15"/><circle cx="613.7" cy="337.8" r="4.15"/><circle cx="615.4" cy="338.2" r="4.15"/><circle cx="617.2" cy="338.9" r="4.15"/><circle cx="618.9" cy="339.5" r="4.15"/><circle cx="620.6" cy="340.2" r="4.15"/><circle cx="622.4" cy="340.3" r="4.15"/><circle cx="624.1" cy="340.4" r="4.15"/><circle cx="625.8" cy="340.4" r="4.15"/><circle cx="627.6" cy="340.5" r="4.15"/><circle cx="629.3" cy="340.6" r="4.15"/><circle cx="631.0" cy="340.6" r="4.15"/><circle cx="632.8" cy="340.6" r="4.15"/><circle cx="634.5" cy="340.6" r="4.15"/><circle cx="636.2" cy="340.6" r="4.15"/><circle cx="638.0" cy="340.6" r="4.15"/><circle cx="639.7" cy="341.0" r="4.15"/><circle cx="641.4" cy="341.3" r="4.15"/><circle cx="643.2" cy="341.6" r="4.15"/><circle cx="644.9" cy="342.0" r="4.15"/><circle cx="646.7" cy="342.4" r="4.15"/><circle cx="648.4" cy="342.8" r="4.15"/><circle cx="650.1" cy="343.2" r="4.15"/><circle cx="651.9" cy="343.6" r="4.15"/><circle cx="653.6" cy="347.8" r="4.15"/><circle cx="655.3" cy="352.6" r="4.15"/><circle cx="657.1" cy="355.1" r="4.15"/><circle cx="658.8" cy="356.2" r="4.15"/><circle cx="660.5" cy="357.4" r="4.15"/><circle cx="662.3" cy="358.4" r="4.15"/><circle cx="664.0" cy="359.3" r="4.15"/><circle cx="665.7" cy="359.1" r="4.15"/><circle cx="667.5" cy="358.8" r="4.15"/><circle cx="669.2" cy="358.6" r="4.15"/><circle cx="670.9" cy="358.1" r="4.15"/><circle cx="672.7" cy="357.5" r="4.15"/><circle cx="674.4" cy="356.8" r="4.15"/><circle cx="676.1" cy="356.0" r="4.15"/><circle cx="677.9" cy="355.1" r="4.15"/><circle cx="679.6" cy="354.8" r="4.15"/><circle cx="681.4" cy="354.5" r="4.15"/><circle cx="683.1" cy="353.6" r="4.15"/><circle cx="684.8" cy="352.3" r="4.15"/><circle cx="686.6" cy="348.9" r="4.15"/><circle cx="688.3" cy="346.1" r="4.15"/></g>
<text x="482.20" y="313" text-anchor="end" class="tk" textLength="11.5" lengthAdjust="spacingAndGlyphs">3</text>
<text x="482.20" y="339" text-anchor="end" class="tk" textLength="11.5" lengthAdjust="spacingAndGlyphs">2</text>
<text x="482.20" y="367" text-anchor="end" class="tk" textLength="11.5" lengthAdjust="spacingAndGlyphs">1</text>
<text transform="translate(460.10 329.10) rotate(-90)" text-anchor="middle" class="lb" textLength="108.2" lengthAdjust="spacingAndGlyphs">H2OMIXRA</text>
<path d="M189.18 427.60V487.30M230.76 427.60V487.30M272.34 427.60V487.30M313.92 427.60V487.30M147.60 438.40H355.50M147.60 463.05H355.50" stroke="#262626" stroke-opacity="0.135" stroke-width="1.85" fill="none"/>
<path d="M148.65 482.77H355.50M148.65 477.84H355.50M148.65 472.91H355.50M148.65 467.98H355.50M148.65 458.12H355.50M148.65 453.19H355.50M148.65 448.26H355.50M148.65 443.33H355.50M148.65 433.47H355.50M148.65 428.54H355.50" stroke="#262626" stroke-opacity="0.36" stroke-width="2.0" stroke-dasharray="1.15 4.406" fill="none"/>
<rect x="147.60" y="427.60" width="207.90" height="59.70" fill="none" stroke="#262626" stroke-width="2.08"/>
<path d="M147.60 487.30v-3.1M147.60 427.60v3.1M189.18 487.30v-3.1M189.18 427.60v3.1M230.76 487.30v-3.1M230.76 427.60v3.1M272.34 487.30v-3.1M272.34 427.60v3.1M313.92 487.30v-3.1M313.92 427.60v3.1M355.50 487.30v-3.1M355.50 427.60v3.1M147.60 438.40h3.1M355.50 438.40h-3.1M147.60 463.05h3.1M355.50 463.05h-3.1M147.60 487.70h3.1M355.50 487.70h-3.1" stroke="#262626" stroke-width="2.08" fill="none"/>
<g fill="none" stroke="#0072bd" stroke-width="1.95"><circle cx="178.8" cy="487.3" r="4.15"/><circle cx="180.5" cy="487.3" r="4.15"/><circle cx="182.2" cy="487.3" r="4.15"/><circle cx="184.0" cy="487.3" r="4.15"/><circle cx="185.7" cy="487.3" r="4.15"/><circle cx="187.4" cy="487.3" r="4.15"/><circle cx="189.2" cy="487.3" r="4.15"/><circle cx="190.9" cy="487.3" r="4.15"/><circle cx="192.6" cy="487.3" r="4.15"/><circle cx="194.4" cy="487.3" r="4.15"/><circle cx="196.1" cy="486.0" r="4.15"/><circle cx="197.8" cy="483.5" r="4.15"/><circle cx="199.6" cy="480.2" r="4.15"/><circle cx="201.3" cy="478.3" r="4.15"/><circle cx="203.0" cy="475.6" r="4.15"/><circle cx="204.8" cy="453.4" r="4.15"/><circle cx="206.5" cy="443.2" r="4.15"/><circle cx="208.2" cy="447.4" r="4.15"/><circle cx="210.0" cy="439.0" r="4.15"/><circle cx="211.7" cy="442.0" r="4.15"/><circle cx="213.4" cy="436.6" r="4.15"/><circle cx="215.2" cy="438.4" r="4.15"/><circle cx="216.9" cy="434.2" r="4.15"/><circle cx="218.6" cy="442.0" r="4.15"/><circle cx="220.4" cy="444.4" r="4.15"/><circle cx="222.1" cy="447.4" r="4.15"/><circle cx="223.8" cy="453.4" r="4.15"/><circle cx="225.6" cy="457.6" r="4.15"/><circle cx="227.3" cy="457.0" r="4.15"/><circle cx="229.0" cy="458.2" r="4.15"/><circle cx="230.8" cy="458.2" r="4.15"/><circle cx="232.5" cy="457.6" r="4.15"/><circle cx="234.2" cy="456.4" r="4.15"/><circle cx="236.0" cy="454.0" r="4.15"/><circle cx="237.7" cy="450.5" r="4.15"/><circle cx="239.4" cy="443.2" r="4.15"/><circle cx="241.2" cy="442.8" r="4.15"/><circle cx="242.9" cy="442.8" r="4.15"/><circle cx="244.6" cy="442.5" r="4.15"/><circle cx="246.4" cy="441.5" r="4.15"/><circle cx="248.1" cy="436.0" r="4.15"/><circle cx="249.8" cy="431.5" r="4.15"/><circle cx="251.6" cy="427.8" r="4.15"/><circle cx="253.3" cy="430.5" r="4.15"/><circle cx="255.0" cy="433.2" r="4.15"/><circle cx="256.7" cy="435.0" r="4.15"/><circle cx="258.5" cy="432.5" r="4.15"/><circle cx="260.2" cy="430.0" r="4.15"/><circle cx="261.9" cy="428.5" r="4.15"/><circle cx="263.7" cy="426.8" r="4.15"/><circle cx="265.4" cy="428.4" r="4.15"/><circle cx="267.1" cy="435.6" r="4.15"/><circle cx="268.9" cy="442.2" r="4.15"/><circle cx="270.6" cy="443.0" r="4.15"/><circle cx="272.3" cy="443.2" r="4.15"/><circle cx="274.1" cy="443.5" r="4.15"/><circle cx="275.8" cy="443.8" r="4.15"/><circle cx="277.5" cy="444.3" r="4.15"/><circle cx="279.3" cy="445.0" r="4.15"/><circle cx="281.0" cy="446.5" r="4.15"/><circle cx="282.7" cy="448.8" r="4.15"/><circle cx="284.5" cy="450.5" r="4.15"/><circle cx="286.2" cy="451.2" r="4.15"/><circle cx="287.9" cy="450.5" r="4.15"/><circle cx="289.7" cy="448.5" r="4.15"/><circle cx="291.4" cy="445.5" r="4.15"/><circle cx="293.1" cy="443.5" r="4.15"/><circle cx="294.9" cy="442.2" r="4.15"/><circle cx="296.6" cy="442.8" r="4.15"/><circle cx="298.3" cy="444.5" r="4.15"/><circle cx="300.1" cy="446.8" r="4.15"/><circle cx="301.8" cy="448.8" r="4.15"/><circle cx="303.5" cy="449.8" r="4.15"/><circle cx="305.3" cy="450.3" r="4.15"/><circle cx="307.0" cy="450.5" r="4.15"/><circle cx="308.7" cy="450.5" r="4.15"/><circle cx="310.5" cy="450.5" r="4.15"/><circle cx="312.2" cy="450.3" r="4.15"/><circle cx="313.9" cy="450.0" r="4.15"/><circle cx="315.7" cy="449.5" r="4.15"/><circle cx="317.4" cy="446.0" r="4.15"/><circle cx="319.1" cy="445.0" r="4.15"/><circle cx="320.9" cy="446.2" r="4.15"/><circle cx="322.6" cy="449.5" r="4.15"/><circle cx="324.3" cy="458.5" r="4.15"/><circle cx="326.0" cy="462.4" r="4.15"/><circle cx="327.8" cy="460.0" r="4.15"/><circle cx="329.5" cy="456.5" r="4.15"/><circle cx="331.2" cy="456.0" r="4.15"/><circle cx="333.0" cy="466.0" r="4.15"/><circle cx="334.7" cy="469.6" r="4.15"/><circle cx="336.4" cy="471.5" r="4.15"/><circle cx="338.2" cy="473.0" r="4.15"/><circle cx="339.9" cy="466.0" r="4.15"/><circle cx="341.6" cy="478.6" r="4.15"/><circle cx="343.4" cy="486.6" r="4.15"/><circle cx="345.1" cy="481.0" r="4.15"/></g>
<text x="138.60" y="446" text-anchor="end" class="tk" textLength="32.5" lengthAdjust="spacingAndGlyphs">200</text>
<text x="138.60" y="470" text-anchor="end" class="tk" textLength="32.5" lengthAdjust="spacingAndGlyphs">100</text>
<text x="138.60" y="494" text-anchor="end" class="tk" textLength="11.5" lengthAdjust="spacingAndGlyphs">0</text>
<text transform="translate(86.00 501.80) rotate(-90)" class="lb" textLength="46.5" lengthAdjust="spacingAndGlyphs">TERR</text>
<text transform="translate(95.40 454.40) rotate(-90)" class="sb" textLength="17.5" lengthAdjust="spacingAndGlyphs">M</text>
<text transform="translate(86.00 436.30) rotate(-90)" class="lb" textLength="23.5" lengthAdjust="spacingAndGlyphs">SL</text>
<text transform="translate(156.00 504.80) rotate(-45)" x="0" y="0" text-anchor="end" class="tk" textLength="50" lengthAdjust="spacingAndGlyphs" dy="6.5">01/10</text>
<text transform="translate(197.58 504.80) rotate(-45)" x="0" y="0" text-anchor="end" class="tk" textLength="50" lengthAdjust="spacingAndGlyphs" dy="6.5">01/11</text>
<text transform="translate(239.16 504.80) rotate(-45)" x="0" y="0" text-anchor="end" class="tk" textLength="50" lengthAdjust="spacingAndGlyphs" dy="6.5">01/12</text>
<text transform="translate(280.74 504.80) rotate(-45)" x="0" y="0" text-anchor="end" class="tk" textLength="50" lengthAdjust="spacingAndGlyphs" dy="6.5">01/13</text>
<text transform="translate(322.32 504.80) rotate(-45)" x="0" y="0" text-anchor="end" class="tk" textLength="50" lengthAdjust="spacingAndGlyphs" dy="6.5">01/14</text>
<text transform="translate(363.90 504.80) rotate(-45)" x="0" y="0" text-anchor="end" class="tk" textLength="50" lengthAdjust="spacingAndGlyphs" dy="6.5">01/15</text>
<text x="250.65" y="576" text-anchor="middle" class="lb" textLength="49.8" lengthAdjust="spacingAndGlyphs">Time</text>
<path d="M532.14 427.60V487.30M573.78 427.60V487.30M615.42 427.60V487.30M657.06 427.60V487.30M490.50 457.45H698.70" stroke="#262626" stroke-opacity="0.135" stroke-width="1.85" fill="none"/>
<path d="M491.55 481.33H698.70M491.55 475.36H698.70M491.55 469.39H698.70M491.55 463.42H698.70M491.55 451.48H698.70M491.55 445.51H698.70M491.55 439.54H698.70M491.55 433.57H698.70" stroke="#262626" stroke-opacity="0.36" stroke-width="2.0" stroke-dasharray="1.15 4.406" fill="none"/>
<rect x="490.50" y="427.60" width="208.20" height="59.70" fill="none" stroke="#262626" stroke-width="2.08"/>
<path d="M490.50 487.30v-3.1M490.50 427.60v3.1M532.14 487.30v-3.1M532.14 427.60v3.1M573.78 487.30v-3.1M573.78 427.60v3.1M615.42 487.30v-3.1M615.42 427.60v3.1M657.06 487.30v-3.1M657.06 427.60v3.1M698.70 487.30v-3.1M698.70 427.60v3.1M490.50 427.60h3.1M698.70 427.60h-3.1M490.50 457.45h3.1M698.70 457.45h-3.1M490.50 487.30h3.1M698.70 487.30h-3.1" stroke="#262626" stroke-width="2.08" fill="none"/>
<g fill="none" stroke="#0072bd" stroke-width="1.95"><circle cx="521.7" cy="483.8" r="4.15"/><circle cx="523.5" cy="485.9" r="4.15"/><circle cx="525.2" cy="487.3" r="4.15"/><circle cx="526.9" cy="487.3" r="4.15"/><circle cx="528.7" cy="487.3" r="4.15"/><circle cx="530.4" cy="487.3" r="4.15"/><circle cx="532.1" cy="487.3" r="4.15"/><circle cx="533.9" cy="487.3" r="4.15"/><circle cx="535.6" cy="487.3" r="4.15"/><circle cx="537.3" cy="487.3" r="4.15"/><circle cx="539.1" cy="487.3" r="4.15"/><circle cx="540.8" cy="487.3" r="4.15"/><circle cx="542.5" cy="487.3" r="4.15"/><circle cx="544.3" cy="472.5" r="4.15"/><circle cx="546.0" cy="458.0" r="4.15"/><circle cx="547.8" cy="436.4" r="4.15"/><circle cx="549.5" cy="437.8" r="4.15"/><circle cx="551.2" cy="439.6" r="4.15"/><circle cx="553.0" cy="441.3" r="4.15"/><circle cx="554.7" cy="458.0" r="4.15"/><circle cx="556.4" cy="471.5" r="4.15"/><circle cx="558.2" cy="482.4" r="4.15"/><circle cx="559.9" cy="487.3" r="4.15"/><circle cx="561.6" cy="487.3" r="4.15"/><circle cx="563.4" cy="487.3" r="4.15"/><circle cx="565.1" cy="487.3" r="4.15"/><circle cx="566.8" cy="487.3" r="4.15"/><circle cx="568.6" cy="487.3" r="4.15"/><circle cx="570.3" cy="487.3" r="4.15"/><circle cx="572.0" cy="487.3" r="4.15"/><circle cx="573.8" cy="487.3" r="4.15"/><circle cx="575.5" cy="487.3" r="4.15"/><circle cx="577.2" cy="487.3" r="4.15"/><circle cx="579.0" cy="487.3" r="4.15"/><circle cx="580.7" cy="487.3" r="4.15"/><circle cx="582.5" cy="487.3" r="4.15"/><circle cx="584.2" cy="487.3" r="4.15"/><circle cx="585.9" cy="480.7" r="4.15"/><circle cx="587.7" cy="475.6" r="4.15"/><circle cx="589.4" cy="469.0" r="4.15"/><circle cx="591.1" cy="466.9" r="4.15"/><circle cx="592.9" cy="464.5" r="4.15"/><circle cx="594.6" cy="462.7" r="4.15"/><circle cx="596.3" cy="467.5" r="4.15"/><circle cx="598.1" cy="474.7" r="4.15"/><circle cx="599.8" cy="480.7" r="4.15"/><circle cx="601.5" cy="483.5" r="4.15"/><circle cx="603.3" cy="485.0" r="4.15"/><circle cx="605.0" cy="486.0" r="4.15"/><circle cx="606.7" cy="486.8" r="4.15"/><circle cx="608.5" cy="487.3" r="4.15"/><circle cx="610.2" cy="487.3" r="4.15"/><circle cx="612.0" cy="487.3" r="4.15"/><circle cx="613.7" cy="487.3" r="4.15"/><circle cx="615.4" cy="487.3" r="4.15"/><circle cx="617.2" cy="487.3" r="4.15"/><circle cx="618.9" cy="487.3" r="4.15"/><circle cx="620.6" cy="487.3" r="4.15"/><circle cx="622.4" cy="487.3" r="4.15"/><circle cx="624.1" cy="487.3" r="4.15"/><circle cx="625.8" cy="487.3" r="4.15"/><circle cx="627.6" cy="480.7" r="4.15"/><circle cx="629.3" cy="476.6" r="4.15"/><circle cx="631.0" cy="472.4" r="4.15"/><circle cx="632.8" cy="468.2" r="4.15"/><circle cx="634.5" cy="464.5" r="4.15"/><circle cx="636.2" cy="462.7" r="4.15"/><circle cx="638.0" cy="466.9" r="4.15"/><circle cx="639.7" cy="471.5" r="4.15"/><circle cx="641.4" cy="475.6" r="4.15"/><circle cx="643.2" cy="479.4" r="4.15"/><circle cx="644.9" cy="482.3" r="4.15"/><circle cx="646.7" cy="484.0" r="4.15"/><circle cx="648.4" cy="485.3" r="4.15"/><circle cx="650.1" cy="486.2" r="4.15"/><circle cx="651.9" cy="487.0" r="4.15"/><circle cx="653.6" cy="487.3" r="4.15"/><circle cx="655.3" cy="487.3" r="4.15"/><circle cx="657.1" cy="487.3" r="4.15"/><circle cx="658.8" cy="487.3" r="4.15"/><circle cx="660.5" cy="487.3" r="4.15"/><circle cx="662.3" cy="487.3" r="4.15"/><circle cx="664.0" cy="487.3" r="4.15"/><circle cx="665.7" cy="487.3" r="4.15"/><circle cx="667.5" cy="487.3" r="4.15"/><circle cx="669.2" cy="481.7" r="4.15"/><circle cx="670.9" cy="477.4" r="4.15"/><circle cx="672.7" cy="473.0" r="4.15"/><circle cx="674.4" cy="468.7" r="4.15"/><circle cx="676.1" cy="464.3" r="4.15"/><circle cx="677.9" cy="460.4" r="4.15"/><circle cx="679.6" cy="465.5" r="4.15"/><circle cx="681.4" cy="472.4" r="4.15"/><circle cx="683.1" cy="479.2" r="4.15"/><circle cx="684.8" cy="480.7" r="4.15"/><circle cx="686.6" cy="482.1" r="4.15"/><circle cx="688.3" cy="483.5" r="4.15"/></g>
<text x="481.50" y="434" text-anchor="end" class="tk" textLength="32.5" lengthAdjust="spacingAndGlyphs">200</text>
<text x="481.50" y="464" text-anchor="end" class="tk" textLength="32.5" lengthAdjust="spacingAndGlyphs">100</text>
<text x="481.50" y="494" text-anchor="end" class="tk" textLength="11.5" lengthAdjust="spacingAndGlyphs">0</text>
<text transform="translate(398.40 503.20) rotate(-90)" class="lb" textLength="41.5" lengthAdjust="spacingAndGlyphs">SUN</text>
<text transform="translate(407.80 461.60) rotate(-90)" class="sb" textLength="10.5" lengthAdjust="spacingAndGlyphs">F</text>
<text transform="translate(398.40 450.30) rotate(-90)" class="lb" textLength="40.0" lengthAdjust="spacingAndGlyphs">LUX</text>
<text transform="translate(498.90 504.80) rotate(-45)" x="0" y="0" text-anchor="end" class="tk" textLength="50" lengthAdjust="spacingAndGlyphs" dy="6.5">01/10</text>
<text transform="translate(540.54 504.80) rotate(-45)" x="0" y="0" text-anchor="end" class="tk" textLength="50" lengthAdjust="spacingAndGlyphs" dy="6.5">01/11</text>
<text transform="translate(582.18 504.80) rotate(-45)" x="0" y="0" text-anchor="end" class="tk" textLength="50" lengthAdjust="spacingAndGlyphs" dy="6.5">01/12</text>
<text transform="translate(623.82 504.80) rotate(-45)" x="0" y="0" text-anchor="end" class="tk" textLength="50" lengthAdjust="spacingAndGlyphs" dy="6.5">01/13</text>
<text transform="translate(665.46 504.80) rotate(-45)" x="0" y="0" text-anchor="end" class="tk" textLength="50" lengthAdjust="spacingAndGlyphs" dy="6.5">01/14</text>
<text transform="translate(707.10 504.80) rotate(-45)" x="0" y="0" text-anchor="end" class="tk" textLength="50" lengthAdjust="spacingAndGlyphs" dy="6.5">01/15</text>
<text x="593.70" y="576" text-anchor="middle" class="lb" textLength="49.8" lengthAdjust="spacingAndGlyphs">Time</text>
</svg>
</body></html>
